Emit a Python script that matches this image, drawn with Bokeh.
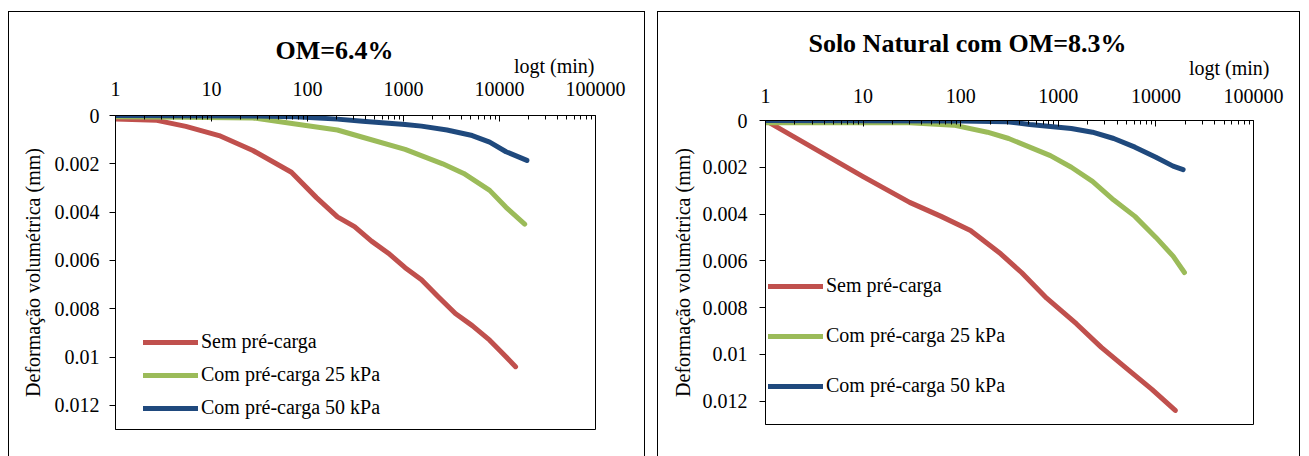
from bokeh.plotting import figure
from bokeh.models import (Range1d, FixedTicker, Label, Legend, LegendItem)
from bokeh.embed import file_html
from bokeh.resources import INLINE

# ---------------- data ----------------
SERIES_NAMES = ["Sem pré-carga", "Com pré-carga 25 kPa", "Com pré-carga 50 kPa"]
SERIES_COLORS = ["#C0504D", "#9BBB59", "#1F497D"]

# Left panel: OM=6.4%
T_L_RED = [1, 2.7, 5.4, 12, 27, 68, 124, 205, 309, 464, 695, 1040, 1540, 2300, 3470, 5200, 7900, 10500, 14700]
V_L_RED = [0.00014, 0.0002, 0.00045, 0.00083, 0.00145, 0.00235, 0.0034, 0.0042, 0.0046, 0.0052, 0.0057,
           0.0063, 0.0068, 0.0075, 0.0082, 0.0087, 0.0093, 0.0098, 0.0104]
T_L_GREEN = [1, 5, 27, 75, 205, 375, 1040, 2560, 4240, 7900, 11700, 18300]
V_L_GREEN = [0.00005, 0.00007, 0.0001, 0.00035, 0.0006, 0.0009, 0.0014, 0.002, 0.0024, 0.0031, 0.0038, 0.0045]
T_L_BLUE = [1, 30, 75, 205, 375, 1040, 1540, 2840, 5200, 7900, 11700, 19300]
V_L_BLUE = [0.0, 0.00002, 0.00005, 0.00015, 0.00024, 0.00037, 0.00044, 0.0006, 0.00083, 0.0011, 0.0015, 0.00186]

# Right panel: Solo Natural com OM=8.3%
T_R_RED = [1, 10, 30, 63, 126, 257, 420, 760, 1540, 2760, 5000, 9100, 15800]
V_R_RED = [0.0, 0.0024, 0.0035, 0.0041, 0.0047, 0.0057, 0.0065, 0.0076, 0.0087, 0.0097, 0.0106, 0.0115, 0.0124]
T_R_GREEN = [1, 30, 85, 188, 310, 830, 1360, 2240, 3700, 6100, 10000, 15000, 19600]
V_R_GREEN = [0.0001, 0.0001, 0.0002, 0.0005, 0.00077, 0.0015, 0.002, 0.0026, 0.0034, 0.0041, 0.005, 0.0058, 0.0065]
T_R_BLUE = [1, 100, 300, 510, 1360, 2240, 3700, 6100, 10000, 15000, 19000]
V_R_BLUE = [0.0, 0.00002, 0.00005, 0.00017, 0.00034, 0.0005, 0.00077, 0.00114, 0.00157, 0.00195, 0.0021]

X_TICKS = [1, 10, 100, 1000, 10000, 100000]
X_TICK_LABELS = ["1", "10", "100", "1000", "10000", "100000"]
Y_TICKS = [0, 0.002, 0.004, 0.006, 0.008, 0.01, 0.012]
Y_TICK_LABELS = ["0", "0.002", "0.004", "0.006", "0.008", "0.01", "0.012"]

TITLES = ["OM=6.4%", "Solo Natural com OM=8.3%"]
X_LABEL = "logt (min)"
Y_LABEL = "Deformação volumétrica (mm)"

FONT = "Liberation Serif"
MINOR = [k * d for d in [1, 10, 100, 1000, 10000] for k in range(2, 10)]


def make_panel(series, title, left, width, height, mb, title_xy, xlab_xy, legend_loc, legend_spacing,
               ylab_standoff, xtick_standoff, ytick_standoff):
    p = figure(width=width, height=height, x_axis_type="log", x_axis_location="above",
               x_range=Range1d(1, 100000), y_range=Range1d(0.013, 0),
               output_backend="svg", toolbar_location=None,
               min_border_left=mb[0], min_border_right=mb[1],
               min_border_top=mb[2], min_border_bottom=mb[3])
    p.margin = 0
    p.styles = {"position": "absolute", "left": f"{left}px", "top": "12px",
                "outline": "1px solid black"}
    p.background_fill_color = "white"
    p.border_fill_color = "white"
    p.outline_line_color = "black"
    p.outline_line_width = 1
    p.xgrid.visible = False
    p.ygrid.visible = False

    xa = p.xaxis[0]
    xa.ticker = FixedTicker(ticks=X_TICKS, minor_ticks=MINOR)
    xa.major_label_overrides = {t: l for t, l in zip(X_TICKS, X_TICK_LABELS)}
    xa.major_tick_in = 6
    xa.major_tick_out = 0
    xa.minor_tick_in = 4
    xa.minor_tick_out = 0
    xa.major_label_text_font = FONT
    xa.major_label_text_font_size = "20px"
    xa.major_label_standoff = xtick_standoff
    xa.axis_line_color = "black"
    xa.major_tick_line_color = "black"
    xa.minor_tick_line_color = "black"
    xa.major_label_text_color = "black"

    ya = p.yaxis[0]
    ya.ticker = FixedTicker(ticks=Y_TICKS, minor_ticks=[])
    ya.major_label_overrides = {t: l for t, l in zip(Y_TICKS, Y_TICK_LABELS)}
    ya.major_tick_in = 0
    ya.major_tick_out = 6
    ya.minor_tick_line_color = None
    ya.major_label_text_font = FONT
    ya.major_label_text_font_size = "20px"
    ya.major_label_standoff = ytick_standoff
    ya.axis_label = Y_LABEL
    ya.axis_label_text_font = FONT
    ya.axis_label_text_font_size = "20px"
    ya.axis_label_text_font_style = "normal"
    ya.axis_label_standoff = ylab_standoff
    ya.axis_line_color = "black"
    ya.major_tick_line_color = "black"
    ya.major_label_text_color = "black"
    ya.axis_label_text_color = "black"

    items = []
    for (t, v), name, color in zip(series, SERIES_NAMES, SERIES_COLORS):
        r = p.line(t, v, line_width=5, line_color=color, line_cap="round", line_join="round")
        items.append(LegendItem(label=name, renderers=[r]))

    legend = Legend(items=items, location=legend_loc, glyph_width=55, glyph_height=20,
                    label_height=20, spacing=legend_spacing, padding=0, margin=0,
                    label_standoff=3, label_text_font=FONT, label_text_font_size="20px",
                    label_text_color="black",
                    border_line_alpha=0, background_fill_alpha=0)
    p.add_layout(legend)

    t_label = Label(x=title_xy[0], y=title_xy[1], x_units="screen", y_units="screen",
                    text=title, text_font=FONT, text_font_size="26px", text_font_style="bold",
                    text_align="center", text_baseline="middle", text_color="black")
    x_label = Label(x=xlab_xy[0], y=xlab_xy[1], x_units="screen", y_units="screen",
                    text=X_LABEL, text_font=FONT, text_font_size="20px",
                    text_align="right", text_baseline="middle", text_color="black")
    p.above = list(p.above) + [t_label, x_label]
    return p


p1 = make_panel([(T_L_RED, V_L_RED), (T_L_GREEN, V_L_GREEN), (T_L_BLUE, V_L_BLUE)], TITLES[0],
                left=9, width=635, height=444, mb=(106, 49, 103, 27),
                title_xy=(219, 28), xlab_xy=(479, -16), legend_loc=(28, 10), legend_spacing=10,
                ylab_standoff=8, xtick_standoff=20, ytick_standoff=10)
p2 = make_panel([(T_R_RED, V_R_RED), (T_R_GREEN, V_R_GREEN), (T_R_BLUE, V_R_BLUE)], TITLES[1],
                left=658, width=641, height=444, mb=(107, 46, 108, 32),
                title_xy=(202, 42), xlab_xy=(504, -11), legend_loc=(3, 27), legend_spacing=27,
                ylab_standoff=6, xtick_standoff=18, ytick_standoff=12)

open("out.html", "w").write(file_html([p1, p2], INLINE))
